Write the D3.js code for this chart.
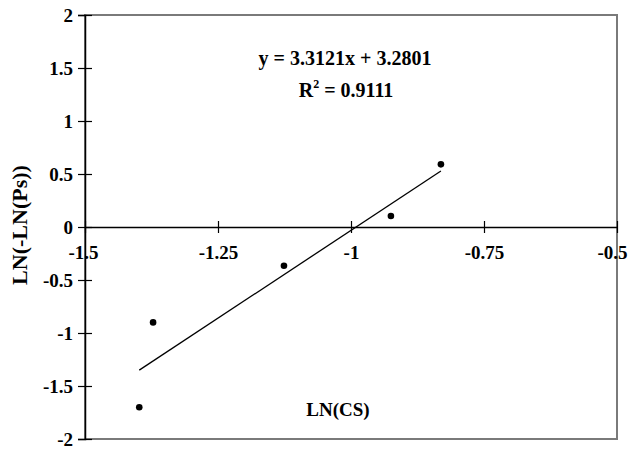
<!DOCTYPE html>
<meta charset="utf-8">
<script src="https://d3js.org/d3.v7.min.js"></script>
<style>
  body { margin: 0; background: #fff; }
  text { font-family: "Liberation Serif", "Times New Roman", serif; font-weight: bold; fill: #000; }
</style>
<div id="chart"></div>
<script>

// points
var lnCS = [-1.398, -1.372, -1.126, -0.925, -0.831];
var lnLnPs = [-1.70, -0.90, -0.365, 0.104, 0.591];

// trend line, as printed on the chart
var slope = 3.3121, intercept = 3.2801, r2 = 0.9111;

var xTicks = [-1.5, -1.25, -1, -0.75, -0.5];
var yTicks = [-2, -1.5, -1, -0.5, 0, 0.5, 1, 1.5, 2];

var width = 629, height = 449;
var margin = {top: 15, right: 12, bottom: 10, left: 85};

var svg = d3.select("#chart")
  .append("svg")
    .attr("width", width)
    .attr("height", height);

var x = d3.scaleLinear()
  .domain([-1.5, -0.5])
  .range([margin.left, width - margin.right]);

var y = d3.scaleLinear()
  .domain([-2, 2])
  .range([height - margin.bottom, margin.top]);

// plain hyphen, like the original
var fmt = function(d) { return String(d); };

// plot area box (grey)
svg.append("rect")
  .attr("x", x(-1.5))
  .attr("y", y(2))
  .attr("width", x(-0.5) - x(-1.5))
  .attr("height", y(-2) - y(2))
  .attr("fill", "none")
  .attr("stroke", "#7a7a7a")
  .attr("stroke-width", 2);

// y axis, ticks crossing the line
var yAxis = svg.append("g")
  .attr("transform", "translate(" + x(-1.5) + ",0)")
  .call(d3.axisLeft(y).tickValues(yTicks).tickFormat(fmt).tickSize(7).tickPadding(5));
yAxis.select(".domain").attr("stroke", "#000").attr("stroke-width", 1.5);
yAxis.selectAll(".tick line").attr("x2", 7).attr("x1", -7).attr("stroke-width", 1.2);
yAxis.selectAll(".tick text")
  .style("font-size", "19px")
  .style("font-family", "Liberation Serif")
  .style("font-weight", "bold")
  .attr("dy", "0.33em");

// x axis sits on y = 0
var xAxis = svg.append("g")
  .attr("transform", "translate(0," + y(0) + ")")
  .call(d3.axisBottom(x).tickValues(xTicks).tickFormat(fmt).tickSize(6).tickSizeOuter(0).tickPadding(13));
xAxis.select(".domain").attr("stroke", "#000").attr("stroke-width", 1.5);
xAxis.selectAll(".tick line").attr("y1", -6).attr("y2", 6).attr("stroke-width", 1.2);
xAxis.selectAll(".tick text")
  .style("font-size", "19px")
  .style("font-family", "Liberation Serif")
  .style("font-weight", "bold")
  .attr("dy", "0.71em");
// end labels nudged so they stay inside the window
xAxis.selectAll(".tick text")
  .filter(function(d) { return d === -0.5; })
  .attr("text-anchor", "end")
  .attr("x", 10);
xAxis.selectAll(".tick text")
  .filter(function(d) { return d === -1.5; })
  .attr("x", -2);

// fitted line over the range of the data
var x0 = d3.min(lnCS), x1 = d3.max(lnCS);
svg.append("line")
  .attr("x1", x(x0))
  .attr("y1", y(slope * x0 + intercept))
  .attr("x2", x(x1))
  .attr("y2", y(slope * x1 + intercept))
  .attr("stroke", "#000")
  .attr("stroke-width", 1.3);

// points
svg.selectAll("circle")
  .data(lnCS)
  .enter()
  .append("circle")
    .attr("cx", function(d) { return x(d); })
    .attr("cy", function(d, i) { return y(lnLnPs[i]); })
    .attr("r", 3.3)
    .attr("fill", "#000");

// equation
svg.append("text")
  .attr("x", 345)
  .attr("y", 65)
  .attr("text-anchor", "middle")
  .style("font-size", "20px")
  .text("y = " + slope + "x + " + intercept);

var rt = svg.append("text")
  .attr("x", 346)
  .attr("y", 97)
  .attr("text-anchor", "middle")
  .style("font-size", "20px");
rt.append("tspan").text("R");
rt.append("tspan").attr("dy", -9).style("font-size", "12px").text("2");
rt.append("tspan").attr("dy", 9).text(" = " + r2);

// axis titles
svg.append("text")
  .attr("x", 338)
  .attr("y", 416)
  .attr("text-anchor", "middle")
  .style("font-size", "19px")
  .text("LN(CS)");

svg.append("text")
  .attr("transform", "translate(27," + (y(0) - 2) + ") rotate(-90)")
  .attr("text-anchor", "middle")
  .style("font-size", "22px")
  .text("LN(-LN(Ps))");

</script>
